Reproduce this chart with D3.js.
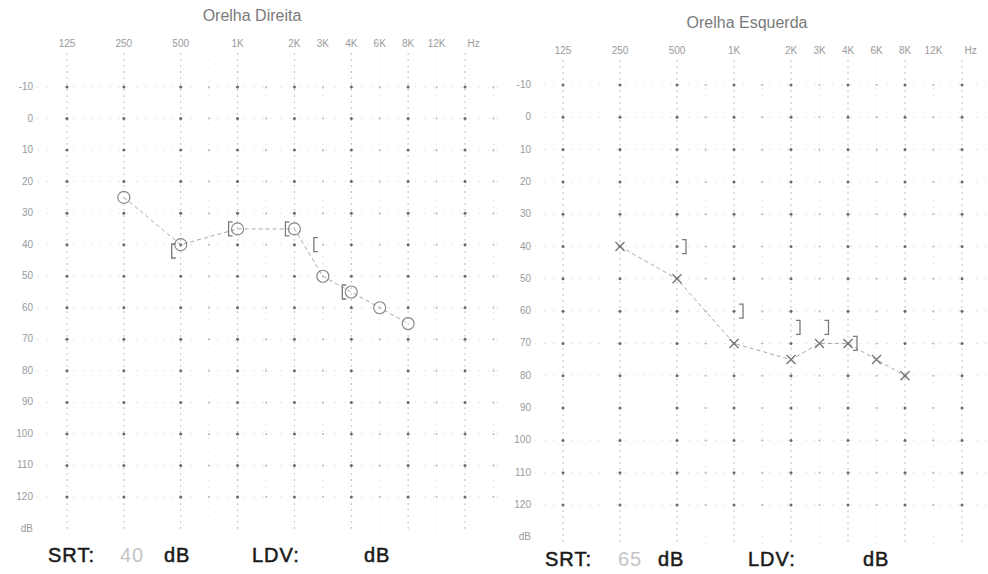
<!DOCTYPE html>
<html lang="pt">
<head>
    <meta charset="UTF-8">
    <title>Audiograma</title>
    <script src="https://cdnjs.cloudflare.com/ajax/libs/d3/7.9.0/d3.min.js"></script>
    <style>
        body { margin: 0; background: #fff; font-family: "Liberation Sans", Arial, sans-serif; }
        .title { fill: #7a7a7a; font-size: 16px; text-anchor: middle; }
        .freq { fill: #9a9a9a; font-size: 10px; text-anchor: middle; }
        .dbl { fill: #9a9a9a; font-size: 10px; text-anchor: end; }
        .foot { fill: #1a1a1a; stroke: #1a1a1a; stroke-width: 0.5px; font-size: 20px; letter-spacing: 1px; }
        .val { fill: #c4c4c4; font-size: 20px; letter-spacing: 1px; }
    </style>
</head>
<body>
<div id="chart"></div>
<script>
    // grid columns (frequency in Hz) and their octave position on the form
    const gridFreqs = [125, 250, 500, 750, 1000, 1500, 2000, 3000, 4000, 6000, 8000, 12000, 16000, 20000];
    const octavePos = [0, 1, 2, 2.5, 3, 3.5, 4, 4.5, 5, 5.5, 6, 6.5, 7, 7.5];
    const labelFreqs = [125, 250, 500, 1000, 2000, 3000, 4000, 6000, 8000, 12000];
    const labelText = ["125", "250", "500", "1K", "2K", "3K", "4K", "6K", "8K", "12K"];
    const dbTicks = [-10, 0, 10, 20, 30, 40, 50, 60, 70, 80, 90, 100, 110, 120];

    // Orelha Direita
    const rightAirFreq = [250, 500, 1000, 2000, 3000, 4000, 6000, 8000];
    const rightAirDb = [25, 40, 35, 35, 50, 55, 60, 65];
    const rightBoneFreq = [500, 1000, 2000, 3000, 4000];
    const rightBoneDb = [42, 35, 35, 40, 55];
    const rightSRT = "40";

    // Orelha Esquerda
    const leftAirFreq = [250, 500, 1000, 2000, 3000, 4000, 6000, 8000];
    const leftAirDb = [40, 50, 70, 75, 70, 70, 75, 80];
    const leftBoneFreq = [500, 1000, 2000, 3000, 4000];
    const leftBoneDb = [40, 60, 65, 65, 70];
    const leftSRT = "65";

    const W = 988, H = 574;
    const svg = d3.select("#chart").append("svg").attr("width", W).attr("height", H);

    const pos = f => octavePos[gridFreqs.indexOf(f)];

    const panels = [
        { title: "Orelha Direita", tx: 252, ty: 21, xr: [67, 465], yr: [87, 497], fy: 47, ly: 33, gy: [53, 532],
          air: rightAirFreq.map((f, i) => [f, rightAirDb[i]]),
          bone: rightBoneFreq.map((f, i) => [f, rightBoneDb[i]]),
          side: "R", foot: { y: 562, srt: 48, v: 120, db1: 164, ldv: 252, db2: 364 }, srt: rightSRT },
        { title: "Orelha Esquerda", tx: 747, ty: 28, xr: [563, 962], yr: [85, 505], fy: 54, ly: 531, gy: [60, 545],
          air: leftAirFreq.map((f, i) => [f, leftAirDb[i]]),
          bone: leftBoneFreq.map((f, i) => [f, leftBoneDb[i]]),
          side: "L", foot: { y: 566, srt: 545, v: 618, db1: 658, ldv: 748, db2: 863 }, srt: leftSRT }
    ];

    panels.forEach(p => {
        const x = d3.scaleLinear().domain([0, 7]).range(p.xr);
        const y = d3.scaleLinear().domain([-10, 120]).range(p.yr);
        const g = svg.append("g");

        g.append("text").attr("class", "title").attr("x", p.tx).attr("y", p.ty).text(p.title);

        // faint horizontal rows
        g.selectAll(".hrow").data(dbTicks).enter().append("line")
            .attr("x1", p.ly + 4).attr("x2", x(7.5) + 10)
            .attr("y1", d => y(d)).attr("y2", d => y(d))
            .attr("stroke", "#e6e6e6").attr("stroke-dasharray", "2,7");

        // vertical columns
        gridFreqs.forEach((f, i) => {
            const main = Number.isInteger(octavePos[i]);
            g.append("line")
                .attr("x1", x(octavePos[i])).attr("x2", x(octavePos[i]))
                .attr("y1", p.gy[0]).attr("y2", p.gy[1])
                .attr("stroke", main ? "#c2c2c2" : "#dcdcdc")
                .attr("stroke-dasharray", main ? "2,4" : "1,6");
            g.selectAll(null).data(dbTicks).enter().append("circle")
                .attr("cx", x(octavePos[i])).attr("cy", d => y(d))
                .attr("r", main ? 1.5 : 1)
                .attr("fill", main ? "#6a6a6a" : "#b5b5b5");
        });

        // frequency labels
        g.selectAll(".fl").data(labelFreqs).enter().append("text")
            .attr("class", "freq")
            .attr("x", d => x(pos(d))).attr("y", p.fy)
            .text((d, i) => labelText[i]);
        g.append("text").attr("class", "freq").attr("x", x(7.15)).attr("y", p.fy).text("Hz");

        // dB labels
        g.selectAll(".dl").data(dbTicks).enter().append("text")
            .attr("class", "dbl")
            .attr("x", p.ly).attr("y", d => y(d) + 3)
            .text(d => d);
        g.append("text").attr("class", "dbl").attr("x", p.ly).attr("y", y(130) + 3).text("dB");

        // air conduction line
        const line = d3.line().x(d => x(pos(d[0]))).y(d => y(d[1]));
        g.append("path").datum(p.air).attr("d", line)
            .attr("fill", "none").attr("stroke", "#a8a8a8").attr("stroke-width", 1)
            .attr("stroke-dasharray", "4,3");

        if (p.side === "R") {
            g.selectAll(".air").data(p.air).enter().append("circle")
                .attr("cx", d => x(pos(d[0]))).attr("cy", d => y(d[1])).attr("r", 6)
                .attr("fill", "none").attr("stroke", "#8a8a8a").attr("stroke-width", 1.2);
            g.selectAll(".bone").data(p.bone).enter().append("path")
                .attr("d", d => {
                    const cx = x(pos(d[0])) - 9, cy = y(d[1]);
                    return `M${cx + 4},${cy - 7}L${cx},${cy - 7}L${cx},${cy + 7}L${cx + 4},${cy + 7}`;
                })
                .attr("fill", "none").attr("stroke", "#7a7a7a").attr("stroke-width", 1.3);
        } else {
            g.selectAll(".air").data(p.air).enter().append("path")
                .attr("d", d => {
                    const cx = x(pos(d[0])), cy = y(d[1]), s = 4.5;
                    return `M${cx - s},${cy - s}L${cx + s},${cy + s}M${cx - s},${cy + s}L${cx + s},${cy - s}`;
                })
                .attr("fill", "none").attr("stroke", "#777").attr("stroke-width", 1.4);
            g.selectAll(".bone").data(p.bone).enter().append("path")
                .attr("d", d => {
                    const cx = x(pos(d[0])) + 9, cy = y(d[1]);
                    return `M${cx - 4},${cy - 7}L${cx},${cy - 7}L${cx},${cy + 7}L${cx - 4},${cy + 7}`;
                })
                .attr("fill", "none").attr("stroke", "#7a7a7a").attr("stroke-width", 1.3);
        }

        // footer
        const f = p.foot;
        g.append("text").attr("class", "foot").attr("x", f.srt).attr("y", f.y).text("SRT:");
        g.append("text").attr("class", "val").attr("x", f.v).attr("y", f.y).text(p.srt);
        g.append("text").attr("class", "foot").attr("x", f.db1).attr("y", f.y).text("dB");
        g.append("text").attr("class", "foot").attr("x", f.ldv).attr("y", f.y).text("LDV:");
        g.append("text").attr("class", "foot").attr("x", f.db2).attr("y", f.y).text("dB");
    });
</script>
</body>
</html>
